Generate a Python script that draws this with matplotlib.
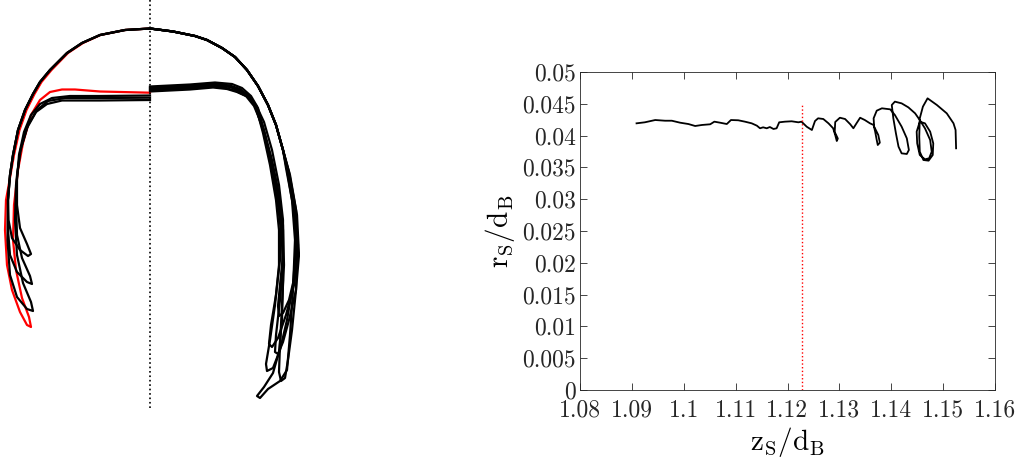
import numpy as np
import matplotlib
matplotlib.use('Agg')
import matplotlib.pyplot as plt
from matplotlib.ticker import FuncFormatter

plt.rcParams['font.family'] = 'cmr10'
plt.rcParams['mathtext.fontset'] = 'cm'
plt.rcParams['axes.formatter.use_mathtext'] = True

# ---- left panel: bubble contours (r, z), arbitrary units ----
# shared top arc, left half and right half
arcL_r = [0, -0.25, -0.50, -0.68, -0.83, -1.00, -1.10, -1.17, -1.25, -1.32, -1.37, -1.40]
arcL_z = [3.815, 3.80, 3.75, 3.67, 3.57, 3.40, 3.28, 3.16, 3.00, 2.80, 2.55, 2.35]
arcRed_r = [0, -0.25, -0.495, -0.67, -0.82, -0.985, -1.085, -1.155, -1.235, -1.305, -1.36, -1.395]
arcR_r = [0, 0.23, 0.45, 0.57, 0.72, 0.85, 0.97, 1.08, 1.18, 1.26, 1.33]
arcR_z = [3.815, 3.785, 3.74, 3.70, 3.62, 3.53, 3.40, 3.24, 3.05, 2.85, 2.60]

# left half, lower parts (tail + inner contour)
L1_r = [-1.42, -1.415, -1.38, -1.30, -1.22, -1.19, -1.23, -1.30, -1.33, -1.33, -1.31, -1.26, -1.19, -1.10, -0.98, -0.80, -0.50, 0]
L1_z = [2.10, 1.90, 1.72, 1.60, 1.54, 1.56, 1.66, 1.82, 2.05, 2.30, 2.55, 2.78, 2.95, 3.06, 3.12, 3.14, 3.14, 3.145]
L2_r = [-1.42, -1.42, -1.40, -1.33, -1.23, -1.18, -1.20, -1.28, -1.33, -1.34, -1.33, -1.29, -1.22, -1.13, -1.02, -0.85, -0.50, 0]
L2_z = [2.10, 1.80, 1.55, 1.38, 1.28, 1.26, 1.34, 1.52, 1.75, 2.05, 2.35, 2.62, 2.85, 3.00, 3.09, 3.12, 3.12, 3.123]
L3_r = [-1.42, -1.425, -1.40, -1.33, -1.23, -1.17, -1.19, -1.27, -1.33, -1.35, -1.34, -1.30, -1.23, -1.14, -1.03, -0.88, -0.50, 0]
L3_z = [2.10, 1.70, 1.35, 1.13, 1.01, 0.99, 1.08, 1.27, 1.55, 1.90, 2.25, 2.58, 2.82, 2.98, 3.06, 3.095, 3.095, 3.10]
Lred_r = [-1.44, -1.45, -1.43, -1.38, -1.30, -1.23, -1.19, -1.21, -1.28, -1.34, -1.37, -1.36, -1.32, -1.27, -1.19, -1.10, -1.00, -0.88, -0.75, -0.50, 0]
Lred_z = [2.10, 1.80, 1.45, 1.20, 0.98, 0.85, 0.83, 0.93, 1.12, 1.40, 1.70, 2.05, 2.40, 2.67, 2.95, 3.10, 3.18, 3.205, 3.205, 3.185, 3.173]

# right half, lower parts
R1_r = [1.37, 1.42, 1.45, 1.43, 1.40, 1.37, 1.30, 1.18, 1.10, 1.07, 1.14, 1.23, 1.29, 1.32, 1.33, 1.32, 1.28, 1.22, 1.15, 1.08, 1.01, 0.92, 0.82, 0.65, 0.40, 0]
R1_z = [2.40, 2.10, 1.70, 1.20, 0.75, 0.40, 0.29, 0.21, 0.12, 0.14, 0.23, 0.37, 0.58, 0.90, 1.30, 1.70, 2.05, 2.40, 2.75, 3.02, 3.14, 3.22, 3.26, 3.275, 3.255, 3.235]
R2_r = [1.38, 1.44, 1.46, 1.43, 1.37, 1.30, 1.23, 1.17, 1.16, 1.20, 1.25, 1.29, 1.29, 1.26, 1.20, 1.13, 1.06, 0.99, 0.90, 0.80, 0.63, 0.40, 0]
R2_z = [2.40, 2.05, 1.65, 1.25, 0.90, 0.60, 0.42, 0.39, 0.46, 0.70, 1.05, 1.45, 1.80, 2.10, 2.45, 2.77, 3.03, 3.14, 3.21, 3.245, 3.265, 3.245, 3.225]
R3_r = [1.39, 1.46, 1.48, 1.44, 1.36, 1.28, 1.22, 1.19, 1.21, 1.26, 1.30, 1.31, 1.27, 1.20, 1.12, 1.05, 0.97, 0.88, 0.78, 0.62, 0.40, 0]
R3_z = [2.38, 2.00, 1.60, 1.25, 0.95, 0.72, 0.63, 0.66, 0.85, 1.15, 1.50, 1.85, 2.20, 2.55, 2.83, 3.04, 3.15, 3.205, 3.24, 3.255, 3.235, 3.215]
R4_r = [1.40, 1.47, 1.49, 1.46, 1.39, 1.33, 1.28, 1.25, 1.26, 1.30, 1.33, 1.33, 1.29, 1.22, 1.14, 1.07, 0.99, 0.90, 0.80, 0.64, 0.40, 0]
R4_z = [2.35, 1.95, 1.55, 1.20, 0.90, 0.68, 0.56, 0.58, 0.75, 1.10, 1.45, 1.80, 2.15, 2.50, 2.80, 3.01, 3.13, 3.19, 3.23, 3.245, 3.225, 3.205]
R5_r = [1.36, 1.43, 1.47, 1.46, 1.42, 1.38, 1.35, 1.31, 1.29, 1.30, 1.32, 1.34, 1.33, 1.28, 1.20, 1.12, 1.04, 0.96, 0.86, 0.76, 0.62, 0.40, 0]
R5_z = [2.42, 2.05, 1.60, 1.20, 0.80, 0.50, 0.32, 0.29, 0.38, 0.65, 1.05, 1.45, 1.85, 2.20, 2.55, 2.85, 3.04, 3.14, 3.19, 3.22, 3.235, 3.215, 3.195]
R6_r = [1.38, 1.45, 1.48, 1.45, 1.39, 1.33, 1.29, 1.28, 1.30, 1.33, 1.33, 1.29, 1.22, 1.14, 1.06, 0.97, 0.87, 0.77, 0.63, 0.40, 0]
R6_z = [2.38, 2.00, 1.65, 1.35, 1.10, 0.97, 0.94, 1.04, 1.25, 1.55, 1.90, 2.25, 2.60, 2.88, 3.05, 3.135, 3.18, 3.21, 3.225, 3.205, 3.185]

axis_z = [0.02, 4.10]

# ---- right panel: satellite position ----
zS = [1.0909, 1.0925, 1.0945, 1.0964, 1.0977, 1.0993, 1.1009, 1.1022, 1.1035, 1.1051, 1.1059,
      1.1070, 1.1083, 1.1091, 1.1105, 1.1118, 1.1131, 1.1141, 1.1147, 1.1153, 1.1160, 1.1166,
      1.1173, 1.1179, 1.1184, 1.1195, 1.1208, 1.1221, 1.1227,
      1.1237, 1.1247, 1.1253, 1.1259, 1.1269, 1.1279, 1.1288, 1.1292, 1.1295, 1.1297, 1.1291,
      1.1292, 1.1301, 1.1311, 1.1321, 1.1327, 1.1333, 1.1340, 1.1349, 1.1359,
      1.1366, 1.1369, 1.1372, 1.1374, 1.1378, 1.1375, 1.1367, 1.1366, 1.1372, 1.1382, 1.1398,
      1.1407, 1.1420, 1.1430, 1.1434, 1.1430, 1.1420, 1.1414, 1.1409, 1.1404, 1.1401, 1.1407,
      1.1420, 1.1433, 1.1446, 1.1455, 1.1465, 1.1475, 1.1478, 1.1473, 1.1465, 1.1455, 1.1450,
      1.1449, 1.1455, 1.1465, 1.1475, 1.1481, 1.1480, 1.1472, 1.1462, 1.1455, 1.1454, 1.1455,
      1.1461, 1.1470, 1.1488, 1.1507, 1.1520, 1.1524, 1.1525]
rS = [0.04193, 0.04209, 0.04245, 0.04234, 0.04234, 0.04203, 0.04182, 0.04151, 0.04167, 0.04178, 0.04219,
      0.04203, 0.04182, 0.04245, 0.04241, 0.04219, 0.04193, 0.04156, 0.04115, 0.04130, 0.04115, 0.04135,
      0.04104, 0.04115, 0.04209, 0.04219, 0.04225, 0.04209, 0.04219,
      0.04140, 0.04088, 0.04229, 0.04272, 0.04261, 0.04193, 0.04115, 0.04009, 0.03915, 0.03954, 0.04057,
      0.04214, 0.04281, 0.04261, 0.04178, 0.04115, 0.04193, 0.04281, 0.04245, 0.04193,
      0.04167, 0.04062, 0.03931, 0.03852, 0.03889, 0.04009, 0.04141, 0.04272, 0.04392, 0.04429, 0.04413,
      0.04324, 0.04141, 0.03957, 0.03774, 0.03711, 0.03721, 0.03826, 0.04036, 0.04272, 0.04481, 0.04534,
      0.04507, 0.04444, 0.04350, 0.04245, 0.04114, 0.03931, 0.03747, 0.03643, 0.03627, 0.03695, 0.03878,
      0.04062, 0.04219, 0.04193, 0.04062, 0.03878, 0.03695, 0.03606, 0.03616, 0.03747, 0.03983, 0.04272,
      0.04455, 0.04586, 0.04481, 0.04350, 0.04193, 0.04088, 0.03800]
z_mark = 1.1228
r_mark_top = 0.0448

xticks = np.arange(1.08, 1.1605, 0.01)
yticks = np.arange(0, 0.05005, 0.005)

fig = plt.figure(figsize=(10.24, 4.67), dpi=100)

# left panel
axL = fig.add_axes([0, 57/467, 300/1024, 410/467])
axL.set_xlim(-1.5, 1.5)
axL.set_ylim(0, 4.10)
axL.axis('off')

axL.plot(arcRed_r + Lred_r, arcL_z + Lred_z, color='red', lw=1.6, zorder=1)
for rr, zz in [(L1_r, L1_z), (L2_r, L2_z), (L3_r, L3_z)]:
    axL.plot(arcL_r + rr, arcL_z + zz, color='black', lw=1.6, zorder=2)
for rr, zz in [(R1_r, R1_z), (R2_r, R2_z), (R3_r, R3_z), (R4_r, R4_z), (R5_r, R5_z), (R6_r, R6_z)]:
    axL.plot(arcR_r + rr, arcR_z + zz, color='black', lw=1.6, zorder=2)
axL.plot([0, 0], axis_z, color='black', ls=':', lw=1.2, zorder=3)

# right panel
axR = fig.add_axes([580/1024, 77/467, 415/1024, 318/467])
axR.plot(zS, rS, color='black', lw=1.3)
axR.plot([z_mark, z_mark], [0, r_mark_top], color='red', ls=':', lw=1.0)
axR.set_xlim(1.08, 1.16)
axR.set_ylim(0, 0.05)
axR.set_xticks(xticks)
axR.set_yticks(yticks)
fmt = FuncFormatter(lambda v, p: '%g' % round(v, 4))
axR.xaxis.set_major_formatter(fmt)
axR.yaxis.set_major_formatter(fmt)
axR.tick_params(direction='in', top=True, right=True, length=5, width=0.6,
                labelsize=17, colors='#262626')
axR.tick_params(axis='x', pad=7)
axR.tick_params(axis='y', pad=3)
for s in axR.spines.values():
    s.set_linewidth(0.6)
    s.set_color('#262626')
axR.set_xlabel(r'$\mathrm{z_S/d_B}$', fontsize=21, labelpad=2)
axR.set_ylabel(r'$\mathrm{r_S/d_B}$', fontsize=21, labelpad=4)

fig.savefig('out.png', dpi=100)
